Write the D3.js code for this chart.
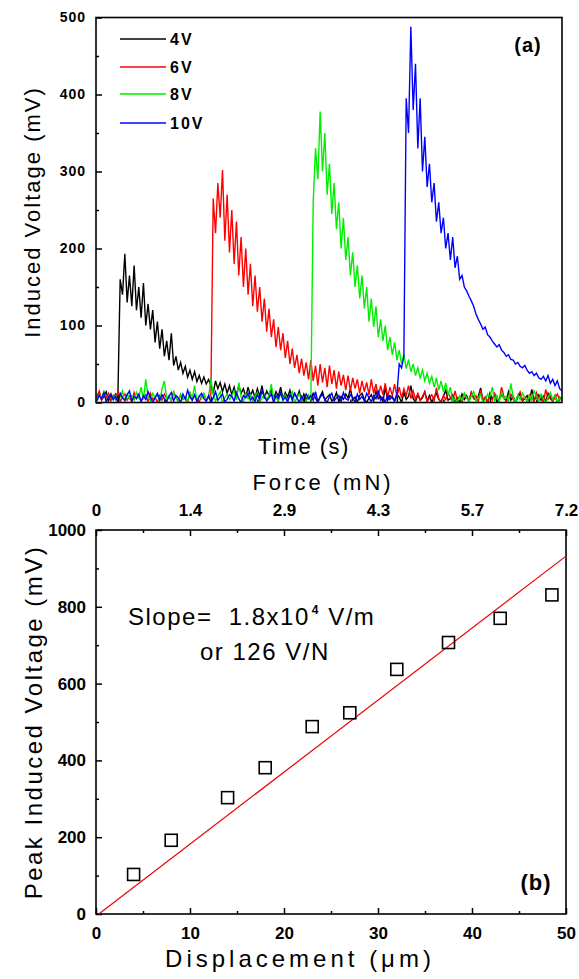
<!DOCTYPE html>
<html><head><meta charset="utf-8">
<script src="https://cdn.jsdelivr.net/npm/d3@7"></script>
<style>
body{margin:0;background:#fff;}
text{font-family:"Liberation Sans",Arial,sans-serif;fill:#000;white-space:pre;}
</style></head><body>
<svg id="c" width="579" height="979"></svg>
<script>
// ---------- Panel (a) data ----------
const timeStart = -0.045, timeStep = 0.005;
const v4 = [5,12,3,8,14,2,9,4,11,6,
160,140,193,130,165,125,178,120,150,110,
155,100,128,95,120,78,105,70,95,60,
80,55,90,48,60,42,52,38,47,33,
42,30,40,27,35,25,33,24,30,22,
12,28,18,26,14,24,12,22,10,20,
8,22,12,18,7,20,9,16,6,18,
8,22,5,15,9,17,4,14,8,20,
5,13,7,16,3,12,6,15,2,11,
4,9,2,12,6,0,8,14,3,7,
10,2,5,13,1,8,4,11,6,18,
3,7,1,9,12,4,0,6,10,2,
15,5,8,1,20,3,9,6,2,11,
7,0,13,4,8,22,5,1,10,3,
6,14,2,9,0,7,12,4,1,8,
16,3,5,10,2,6,0,11,4,9,
1,13,6,3,8,19,2,7,0,12,
5,9,1,4,10,6,2,14,3,8,
0,7,11,2,5,9,1,17,4,6,
10,3,8,1,12,5,2,9,0,7,
4];
const v6 = [8,15,3,10,6,12,2,9,4,14,
1,7,11,3,8,0,13,5,9,2,
6,10,1,12,4,7,0,9,3,11,
5,8,2,14,6,1,10,4,7,0,
12,3,9,5,1,8,11,2,6,10,
265,220,285,240,302,210,270,195,250,180,
235,165,215,150,200,140,180,125,165,118,
150,105,135,92,122,85,108,72,98,68,
90,58,80,50,70,45,62,38,57,35,
52,30,55,28,48,22,50,26,45,20,
48,24,42,18,40,22,36,16,35,15,
32,18,30,12,28,14,26,10,30,12,
24,8,22,10,25,7,20,9,24,8,
20,6,18,9,22,5,15,4,12,
3,8,14,1,6,10,2,19,5,0,
9,4,12,7,1,15,3,8,0,11,
6,2,13,5,9,1,16,4,7,0,
10,3,12,6,2,20,8,1,5,11,
4,0,9,14,3,7,2,10,6,1,
13,5,8,0,17,4,9,2,6,11,
3,7];
const v8 = [3,10,6,14,1,8,12,4,9,2,
7,15,0,11,5,9,3,13,6,20,
4,30,8,2,12,6,10,1,18,28,
5,9,3,14,7,0,11,4,8,2,
13,6,22,1,9,5,12,3,7,31,
10,2,8,14,0,6,11,4,9,15,
3,26,7,1,12,5,10,2,8,13,
0,6,11,4,9,24,3,7,1,12,
5,10,2,8,14,0,6,11,3,7,1,9,4,
260,330,290,378,300,350,270,310,245,285,
225,260,200,240,185,215,165,195,150,178,
135,165,122,150,105,135,98,125,85,108,
80,100,68,85,62,78,55,68,50,62,
44,56,40,50,35,45,32,42,28,38,
25,34,20,32,16,28,14,25,10,20,
2,
5,0,9,3,12,6,1,8,14,2,
7,10,0,4,11,6,20,3,9,1,
13,5,8,2,25,7,0,10,4,12,
6,1,9,3,15,8,2,11,5,0,
7,13,4,9,1,6,3];
const v10 = [2,9,5,13,1,7,11,4,8,0,
12,6,3,10,15,2,8,5,11,1,
9,4,14,7,0,6,12,3,10,5,
1,8,13,2,9,6,0,11,4,16,
7,3,10,1,8,12,5,2,9,0,
6,14,3,7,11,1,4,10,8,2,
13,5,0,9,6,12,3,7,1,10,
4,15,8,2,6,11,0,9,5,13,
3,7,1,10,4,12,6,0,8,2,
11,5,9,3,14,1,7,10,4,0,
8,12,2,6,9,1,13,5,3,10,
7,0,11,4,8,2,12,6,1,9,
5,14,3,7,0,10,4,8,2,
10,50,45,60,395,350,488,380,440,330,
395,300,345,280,310,260,285,235,260,220,
240,200,220,185,215,175,190,160,165,150,
145,138,132,125,115,108,102,95,98,88,
85,80,76,72,75,68,65,60,62,56,
55,50,52,47,45,48,42,38,40,35,
38,32,30,34,28,35,25,30,22,28,
18,15];
const seriesNames = ["4V","6V","8V","10V"];
const seriesColors = ["#000000","#ff0000","#00ee00","#0000ff"];
const timeTicks = [0,0.2,0.4,0.6,0.8];
const timeMinor = [0.1,0.3,0.5,0.7,0.9];
const voltTicks = [0,100,200,300,400,500];
const voltMinor = [50,150,250,350,450];

// ---------- Panel (b) data ----------
const displacement = [4,8,14,18,23,27,32,37.5,43,48.5];
const peakVoltage = [103,192,303,381,488,524,637,707,770,831];
const fitDisp = [0.3,50];
const fitVolt = [0,932];
const dispTicks = [0,10,20,30,40,50];
const dispMinor = [5,15,25,35,45];
const forceLabels = ["0","1.4","2.9","4.3","5.7","7.2"];
const peakTicks = [0,200,400,600,800,1000];
const peakMinor = [100,300,500,700,900];

const svg = d3.select("#c");

// ================= Panel (a) =================
const xA = d3.scaleLinear().domain([-0.047,0.955]).range([96,562]);
const yA = d3.scaleLinear().domain([0,500]).range([402.5,17.5]);

svg.append("clipPath").attr("id","clipA").append("rect")
  .attr("x",96).attr("y",17.5).attr("width",466).attr("height",385);

const seriesVals = [v4,v6,v8,v10];
const lineA = d3.line().x((d,i)=>xA(timeStart+i*timeStep)).y(d=>yA(d));
const gLines = svg.append("g").attr("clip-path","url(#clipA)");
seriesVals.forEach((vals,k)=>{
  gLines.append("path").datum(vals).attr("d",lineA)
    .attr("fill","none").attr("stroke",seriesColors[k]).attr("stroke-width",1.4)
    .attr("stroke-linejoin","miter");
});

function styleAxis(g,fs,ls){
  g.select(".domain").remove();
  g.selectAll("line").attr("stroke","#000").attr("stroke-width",1.5);
  g.selectAll("text").attr("font-size",fs).attr("font-weight","bold")
    .attr("letter-spacing",ls).attr("font-family","'Liberation Sans',Arial,sans-serif");
}
// y axis (a)
const gyA = svg.append("g").attr("transform","translate(96,0)")
  .call(d3.axisLeft(yA).tickValues(voltTicks).tickFormat(d3.format("d")).tickSizeInner(-6).tickSizeOuter(0).tickPadding(10));
styleAxis(gyA,14,1);
const gyAm = svg.append("g").attr("transform","translate(96,0)")
  .call(d3.axisLeft(yA).tickValues(voltMinor).tickFormat("").tickSizeInner(-3).tickSizeOuter(0));
styleAxis(gyAm,14,0);
// x axis (a)
const gxA = svg.append("g").attr("transform","translate(0,402.5)")
  .call(d3.axisBottom(xA).tickValues(timeTicks).tickFormat(d3.format(".1f")).tickSizeInner(-6).tickSizeOuter(0).tickPadding(13));
styleAxis(gxA,14,2.5);
const gxAm = svg.append("g").attr("transform","translate(0,402.5)")
  .call(d3.axisBottom(xA).tickValues(timeMinor).tickFormat("").tickSizeInner(-3).tickSizeOuter(0));
styleAxis(gxAm,14,0);

svg.append("rect").attr("x",96).attr("y",17.5).attr("width",466).attr("height",385)
  .attr("fill","none").attr("stroke","#000").attr("stroke-width",1.6);

// legend
const legY = [39,67,94,123];
seriesNames.forEach((n,k)=>{
  svg.append("line").attr("x1",120).attr("x2",166).attr("y1",legY[k]).attr("y2",legY[k])
    .attr("stroke",seriesColors[k]).attr("stroke-width",1.6);
  svg.append("text").attr("x",170).attr("y",legY[k]+6).attr("font-size",16)
    .attr("font-weight","bold").attr("letter-spacing",2).text(n);
});
svg.append("text").attr("x",528).attr("y",52).attr("text-anchor","middle")
  .attr("font-size",20).attr("font-weight","bold").attr("letter-spacing",1).text("(a)");

// titles (a)
svg.append("text").attr("transform","translate(40,212) rotate(-90)").attr("text-anchor","middle")
  .attr("font-size",22).attr("letter-spacing",2).text("Induced Voltage (mV)");
svg.append("text").attr("x",304).attr("y",454).attr("text-anchor","middle")
  .attr("font-size",22).attr("letter-spacing",1.5).text("Time (s)");

// ================= Panel (b) =================
const xB = d3.scaleLinear().domain([0,50]).range([96,566]);
const yB = d3.scaleLinear().domain([0,1000]).range([914,530]);

const gyB = svg.append("g").attr("transform","translate(96,0)")
  .call(d3.axisLeft(yB).tickValues(peakTicks).tickFormat(d3.format("d")).tickSizeInner(-6).tickSizeOuter(0).tickPadding(10));
styleAxis(gyB,17,0);
const gyBm = svg.append("g").attr("transform","translate(96,0)")
  .call(d3.axisLeft(yB).tickValues(peakMinor).tickFormat("").tickSizeInner(-3).tickSizeOuter(0));
styleAxis(gyBm,17,0);
const gxB = svg.append("g").attr("transform","translate(0,914)")
  .call(d3.axisBottom(xB).tickValues(dispTicks).tickFormat(d3.format("d")).tickSizeInner(-6).tickSizeOuter(0).tickPadding(13));
styleAxis(gxB,17,0);
const gxBm = svg.append("g").attr("transform","translate(0,914)")
  .call(d3.axisBottom(xB).tickValues(dispMinor).tickFormat("").tickSizeInner(-3).tickSizeOuter(0));
styleAxis(gxBm,17,0);
const gtB = svg.append("g").attr("transform","translate(0,530)")
  .call(d3.axisTop(xB).tickValues(dispTicks).tickFormat((d,i)=>forceLabels[i]).tickSizeInner(-6).tickSizeOuter(0).tickPadding(14));
styleAxis(gtB,17,0);
const gtBm = svg.append("g").attr("transform","translate(0,530)")
  .call(d3.axisTop(xB).tickValues(dispMinor).tickFormat("").tickSizeInner(-3).tickSizeOuter(0));
styleAxis(gtBm,17,0);

svg.append("rect").attr("x",96).attr("y",530).attr("width",470).attr("height",384)
  .attr("fill","none").attr("stroke","#000").attr("stroke-width",1.6);

// fit line
svg.append("line").attr("x1",xB(fitDisp[0])).attr("y1",yB(fitVolt[0]))
  .attr("x2",xB(fitDisp[1])).attr("y2",yB(fitVolt[1]))
  .attr("stroke","#ee0000").attr("stroke-width",1.2);

// squares
svg.append("g").selectAll("rect").data(displacement).join("rect")
  .attr("x",(d)=>xB(d)-6).attr("y",(d,i)=>yB(peakVoltage[i])-6)
  .attr("width",12).attr("height",12)
  .attr("fill","none").attr("stroke","#000").attr("stroke-width",1.6);

// annotation
const t1 = svg.append("text").attr("x",128).attr("y",625).attr("font-size",24).attr("letter-spacing",1.5);
t1.append("tspan").text("Slope=\u00a0 1.8x10");
t1.append("tspan").attr("font-size",12).attr("font-weight","bold").attr("dy",-11).attr("dx",2).text("4");
t1.append("tspan").attr("dy",11).text(" V/m");
svg.append("text").attr("x",200).attr("y",660).attr("font-size",24).attr("letter-spacing",1.5).text("or 126 V/N");

svg.append("text").attr("x",536).attr("y",890).attr("text-anchor","middle")
  .attr("font-size",22).attr("font-weight","bold").attr("letter-spacing",1).text("(b)");

// titles (b)
svg.append("text").attr("transform","translate(42,722) rotate(-90)").attr("text-anchor","middle")
  .attr("font-size",24).attr("letter-spacing",2.5).text("Peak Induced Voltage (mV)");
svg.append("text").attr("x",300).attr("y",967).attr("text-anchor","middle")
  .attr("font-size",24).attr("letter-spacing",4).text("Displacement (μm)");
svg.append("text").attr("x",323).attr("y",490).attr("text-anchor","middle")
  .attr("font-size",22).attr("letter-spacing",3).text("Force (mN)");
</script>
</body></html>
